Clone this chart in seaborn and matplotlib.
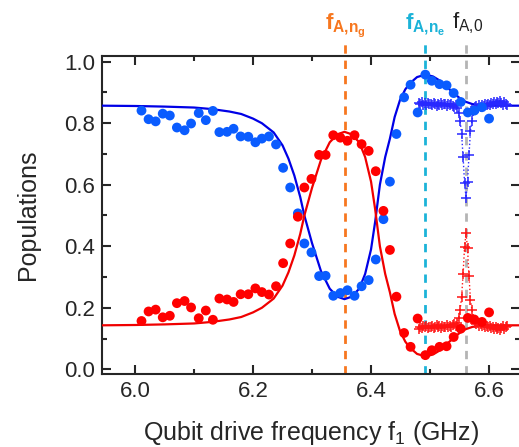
import numpy as np
import pandas as pd
import matplotlib
matplotlib.use("Agg")
import matplotlib.pyplot as plt
import seaborn as sns
from matplotlib.ticker import MultipleLocator

# measured populations (dots)
dots_f = [6.011, 6.023, 6.035, 6.047, 6.059, 6.071, 6.084, 6.095, 6.108, 6.120,
          6.132, 6.143, 6.156, 6.167, 6.179, 6.192, 6.204, 6.215, 6.227, 6.239,
          6.251, 6.263, 6.276, 6.287, 6.299, 6.312, 6.323, 6.336, 6.348, 6.360,
          6.372, 6.384, 6.396, 6.408, 6.421, 6.432, 6.443, 6.456, 6.467, 6.479,
          6.492, 6.503, 6.516, 6.528, 6.540, 6.552, 6.564, 6.575, 6.588, 6.600]
dots_blue = [0.841, 0.813, 0.806, 0.831, 0.825, 0.786, 0.777, 0.799, 0.833, 0.810,
             0.840, 0.771, 0.772, 0.782, 0.757, 0.756, 0.738, 0.750, 0.757, 0.731,
             0.655, 0.591, 0.507, 0.409, 0.380, 0.303, 0.304, 0.239, 0.248, 0.257,
             0.239, 0.270, 0.290, 0.357, 0.488, 0.610, 0.765, 0.884, 0.925, 0.835,
             0.958, 0.938, 0.927, 0.923, 0.898, 0.869, 0.835, 0.841, 0.852, 0.815]
dots_red = [0.157, 0.188, 0.194, 0.169, 0.174, 0.215, 0.222, 0.201, 0.166, 0.191,
            0.161, 0.230, 0.227, 0.219, 0.244, 0.244, 0.263, 0.251, 0.243, 0.270,
            0.345, 0.409, 0.496, 0.591, 0.619, 0.697, 0.697, 0.761, 0.753, 0.743,
            0.761, 0.732, 0.710, 0.644, 0.515, 0.388, 0.236, 0.118, 0.073, 0.165,
            0.046, 0.062, 0.073, 0.075, 0.105, 0.132, 0.167, 0.162, 0.154, 0.185]

# fit curves
fit_f = [5.944, 6.000, 6.050, 6.100, 6.130, 6.160, 6.180, 6.200, 6.215, 6.235,
         6.250, 6.260, 6.270, 6.280, 6.287, 6.300, 6.315, 6.330, 6.343, 6.355,
         6.367, 6.380, 6.390, 6.400, 6.407, 6.415, 6.424, 6.432, 6.440, 6.449,
         6.458, 6.466, 6.478, 6.492, 6.505, 6.517, 6.530, 6.540, 6.550, 6.560,
         6.572, 6.585, 6.600, 6.653]
fit_blue = [0.857, 0.856, 0.854, 0.851, 0.846, 0.838, 0.830, 0.815, 0.800, 0.770,
            0.728, 0.685, 0.630, 0.560, 0.500, 0.410, 0.320, 0.262, 0.236, 0.228,
            0.236, 0.262, 0.310, 0.390, 0.480, 0.600, 0.690, 0.750, 0.820, 0.875,
            0.910, 0.930, 0.950, 0.958, 0.952, 0.938, 0.915, 0.898, 0.882, 0.870,
            0.862, 0.859, 0.857, 0.857]
fit_red = [0.143, 0.144, 0.146, 0.149, 0.154, 0.162, 0.170, 0.185, 0.200, 0.230,
           0.272, 0.315, 0.370, 0.440, 0.500, 0.590, 0.680, 0.738, 0.764, 0.772,
           0.764, 0.738, 0.690, 0.610, 0.520, 0.400, 0.310, 0.250, 0.180, 0.125,
           0.090, 0.070, 0.050, 0.042, 0.048, 0.062, 0.085, 0.102, 0.118, 0.130,
           0.138, 0.141, 0.143, 0.143]

# fine sweep (crosses)
cross_f = [6.481, 6.4835, 6.486, 6.4885, 6.491, 6.4935, 6.496, 6.4985, 6.501, 6.5035,
           6.506, 6.5085, 6.511, 6.5135, 6.516, 6.5185, 6.521, 6.5235, 6.526, 6.5285,
           6.531, 6.5335, 6.536, 6.5385, 6.541, 6.5435, 6.546, 6.5485, 6.551, 6.5535,
           6.556, 6.5585, 6.561, 6.5635, 6.566, 6.5685, 6.571, 6.5735, 6.576, 6.5785,
           6.581, 6.5835, 6.586, 6.5885, 6.591, 6.5935, 6.596, 6.5985, 6.601, 6.6035,
           6.606, 6.6085, 6.611, 6.6135, 6.616, 6.6185, 6.621, 6.6235, 6.626, 6.6285,
           6.631]
cross_blue = [0.866, 0.862, 0.868, 0.860, 0.865, 0.858, 0.867, 0.861, 0.864, 0.859,
              0.866, 0.862, 0.857, 0.864, 0.860, 0.866, 0.858, 0.863, 0.861, 0.856,
              0.862, 0.859, 0.864, 0.857, 0.853, 0.858, 0.850,
              0.833, 0.806, 0.765, 0.690, 0.605, 0.558, 0.608, 0.697, 0.776, 0.806,
              0.840, 0.852,
              0.855, 0.850, 0.858, 0.853, 0.860, 0.856, 0.862, 0.858, 0.864, 0.860,
              0.866, 0.862, 0.868, 0.863, 0.870, 0.865, 0.872, 0.866, 0.860, 0.868,
              0.863, 0.858]
cross_red = [0.132, 0.138, 0.134, 0.140, 0.136, 0.142, 0.135, 0.139, 0.137, 0.141,
             0.134, 0.138, 0.143, 0.136, 0.140, 0.135, 0.142, 0.137, 0.139, 0.144,
             0.138, 0.141, 0.136, 0.143, 0.147, 0.142, 0.150,
             0.167, 0.194, 0.236, 0.310, 0.398, 0.442, 0.393, 0.303, 0.225, 0.194,
             0.162, 0.150,
             0.146, 0.150, 0.142, 0.147, 0.140, 0.144, 0.138, 0.142, 0.136, 0.140,
             0.134, 0.138, 0.132, 0.137, 0.130, 0.135, 0.128, 0.134, 0.140, 0.132,
             0.137, 0.142]

# marker frequencies
f_ng = 6.356
f_ne = 6.4915
f_0 = 6.561

sns.set_style("ticks")
plt.rcParams['font.family'] = ['Liberation Sans', 'DejaVu Sans']
plt.rcParams['mathtext.fontset'] = 'custom'
plt.rcParams['mathtext.rm'] = 'Liberation Sans'
plt.rcParams['mathtext.it'] = 'Liberation Sans'
plt.rcParams['mathtext.bf'] = 'Liberation Sans:bold'

dots = pd.DataFrame({'f': dots_f, 'blue': dots_blue, 'red': dots_red})
fit = pd.DataFrame({'f': fit_f, 'blue': fit_blue, 'red': fit_red})
cross = pd.DataFrame({'f': cross_f, 'blue': cross_blue, 'red': cross_red})

fig = plt.figure(figsize=(5.19, 4.47), dpi=100)
ax = fig.add_axes([0.196, 0.1633, 0.806, 0.7121])

# vertical reference lines
for fv, col in [(f_ng, '#F7771F'), (f_ne, '#1CB3D8'), (f_0, '#B4B4B4')]:
    ax.axvline(fv, ymin=0, ymax=1.05, color=col, lw=2, ls=(0, (3, 2.5)),
               clip_on=False, zorder=1)

sns.lineplot(data=fit, x='f', y='blue', color='#0000E6', lw=1.6, ax=ax,
             estimator=None, zorder=3)
sns.lineplot(data=fit, x='f', y='red', color='#F00000', lw=1.6, ax=ax,
             estimator=None, zorder=3)

sns.lineplot(data=cross, x='f', y='blue', color='#2828FF', lw=1, ls=':',
             marker='+', ms=7.5, mew=1.1, mec='#2828FF', ax=ax, estimator=None,
             zorder=4)
sns.lineplot(data=cross, x='f', y='red', color='#FF1414', lw=1, ls=':',
             marker='+', ms=7.5, mew=1.1, mec='#FF1414', ax=ax, estimator=None,
             zorder=4)

sns.scatterplot(data=dots, x='f', y='blue', color='#0A5CFF', s=50,
                edgecolor='none', ax=ax, zorder=5)
sns.scatterplot(data=dots, x='f', y='red', color='#FF0000', s=50,
                edgecolor='none', ax=ax, zorder=5)

ax.set_xlim(5.9436, 6.6525)
ax.set_ylim(-0.0153, 1.0195)
ax.xaxis.set_major_locator(MultipleLocator(0.2))
ax.xaxis.set_minor_locator(MultipleLocator(0.1))
ax.yaxis.set_major_locator(MultipleLocator(0.2))
ax.yaxis.set_minor_locator(MultipleLocator(0.1))
ax.set_xticks([6.0, 6.2, 6.4, 6.6])
ax.set_xticklabels(['6.0', '6.2', '6.4', '6.6'])
ax.set_yticklabels([f'{v:.1f}' for v in ax.get_yticks()])
ax.tick_params(which='both', direction='in', top=True, right=True,
               width=1.5, labelsize=16)
ax.tick_params(which='major', length=6.5, pad=5)
ax.tick_params(which='minor', length=3.5)
for sp in ax.spines.values():
    sp.set_linewidth(1.5)

ax.set_xlabel('Qubit drive frequency f$_1$ (GHz)', fontsize=18, labelpad=12)
ax.set_ylabel('Populations', fontsize=18, labelpad=17)

tr = ax.get_xaxis_transform()
ax.text(f_ng, 1.085, r'$\mathbf{f}_{\mathbf{A{,}n}_{\mathbf{g}}}$', color='#F7771F',
        fontsize=16, ha='center', va='baseline', transform=tr)
ax.text(f_ne, 1.085, r'$\mathbf{f}_{\mathbf{A{,}n}_{\mathbf{e}}}$', color='#1CB3D8',
        fontsize=16, ha='center', va='baseline', transform=tr)
ax.text(f_0 + 0.003, 1.085, r'$\mathrm{f}_{\mathrm{A{,}0}}$', color='#222222',
        fontsize=16, ha='center', va='baseline', transform=tr)

fig.savefig('out.png', dpi=100)
